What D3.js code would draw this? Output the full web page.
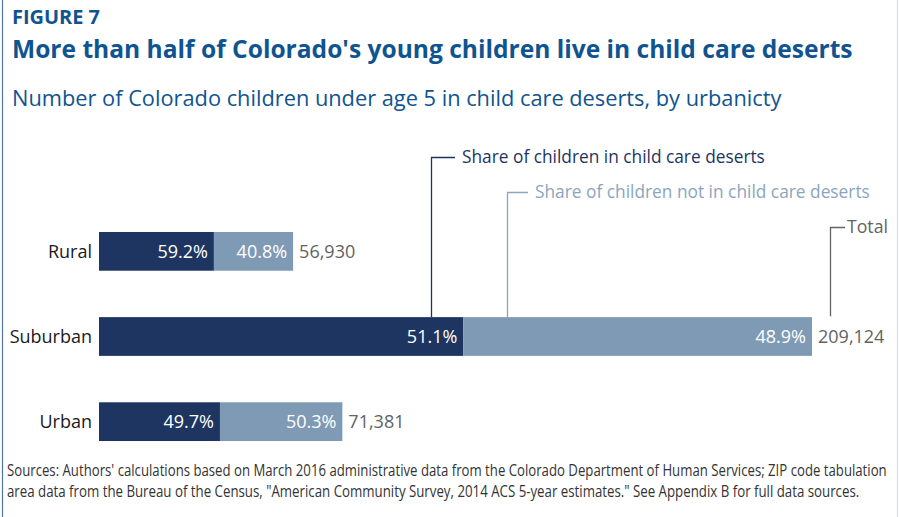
<!DOCTYPE html>
<html>
<head>
<meta charset="utf-8">
<script src="https://cdn.jsdelivr.net/npm/d3@7"></script>
<style>
  html, body { margin: 0; padding: 0; background: #fff; }
  svg { display: block; }
  text { font-family: "Open Sans", "Noto Sans", sans-serif; }
</style>
</head>
<body>
<svg id="chart" width="899" height="517"></svg>
<script>
// Children under 5 by urbanicity
const categories = ["Rural", "Suburban", "Urban"];
const inDesert = [59.2, 51.1, 49.7];      // % in child care deserts
const notInDesert = [40.8, 48.9, 50.3];   // % not in child care deserts
const totals = [56930, 209124, 71381];    // total children

const legendLabels = [
  "Share of children in child care deserts",
  "Share of children not in child care deserts",
  "Total"
];

const sourceLines = [
  "Sources: Authors' calculations based on March 2016 administrative data from the Colorado Department of Human Services; ZIP code tabulation",
  "area data from the Bureau of the Census, \"American Community Survey, 2014 ACS 5-year estimates.\" See Appendix B for full data sources."
];

const W = 899, H = 517;
const DARK = "#1d3560", LIGHT = "#7f9ab4", GREY = "#636363", BLUE = "#0f5490";

const svg = d3.select("#chart");

// frame
svg.append("line").attr("x1", 2.5).attr("x2", 2.5).attr("y1", 0).attr("y2", H)
  .attr("stroke", "#4f74a6").attr("stroke-width", 1.2);
svg.append("line").attr("x1", 897.5).attr("x2", 897.5).attr("y1", 0).attr("y2", H)
  .attr("stroke", "#d6e0ea").attr("stroke-width", 1.2);

// fit helper: scale a text's font-size so it spans a target width
function fit(sel, width) {
  const n = sel.node();
  const fs = parseFloat(sel.attr("font-size"));
  const w = n.getComputedTextLength();
  if (w > 0) sel.attr("font-size", fs * width / w);
  return sel;
}

// condensed text: keep the font size, squeeze horizontally to a width
function condense(sel, x0, y0, width) {
  const w = sel.node().getComputedTextLength();
  sel.attr("x", 0).attr("y", 0)
    .attr("transform", `translate(${x0},${y0}) scale(${width / w},1)`);
  return sel;
}

fit(svg.append("text").attr("x", 12).attr("y", 24).attr("font-size", 16)
  .attr("font-weight", 700).attr("fill", BLUE).text("FIGURE 7"), 88);

fit(svg.append("text").attr("x", 12).attr("y", 58).attr("font-size", 25)
  .attr("font-weight", 700).attr("fill", BLUE)
  .text("More than half of Colorado's young children live in child care deserts"), 841);

fit(svg.append("text").attr("x", 12).attr("y", 106).attr("font-size", 21)
  .attr("fill", BLUE)
  .text("Number of Colorado children under age 5 in child care deserts, by urbanicty"), 770);

// scales
const x = d3.scaleLinear().domain([0, d3.max(totals)]).range([99, 812]);
const y = d3.scaleBand().domain(categories).range([209, 464]).paddingInner(0.545).paddingOuter(0.27);

const rows = categories.map((c, i) => {
  const split = totals[i] * inDesert[i] / 100;
  return { c, i, split, total: totals[i] };
});

const g = svg.append("g");
const bh = y.bandwidth();

const row = g.selectAll("g.row").data(rows).join("g").attr("class", "row")
  .attr("transform", d => `translate(0,${y(d.c)})`);

row.append("rect").attr("x", x(0)).attr("y", 0)
  .attr("width", d => x(d.split) - x(0)).attr("height", bh).attr("fill", DARK);
row.append("rect").attr("x", d => x(d.split)).attr("y", 0)
  .attr("width", d => x(d.total) - x(d.split)).attr("height", bh).attr("fill", LIGHT);

const fs = 18;
row.append("text").attr("x", 92).attr("y", bh / 2).attr("dy", "0.36em")
  .attr("text-anchor", "end").attr("font-size", fs).attr("fill", "#1a1a1a")
  .text(d => d.c);
row.append("text").attr("x", d => x(d.split) - 6).attr("y", bh / 2).attr("dy", "0.36em")
  .attr("text-anchor", "end").attr("font-size", fs).attr("fill", "#fff")
  .text(d => inDesert[d.i].toFixed(1) + "%");
row.append("text").attr("x", d => x(d.total) - 6).attr("y", bh / 2).attr("dy", "0.36em")
  .attr("text-anchor", "end").attr("font-size", fs).attr("fill", "#fff")
  .text(d => notInDesert[d.i].toFixed(1) + "%");
row.append("text").attr("x", d => x(d.total) + 6).attr("y", bh / 2).attr("dy", "0.36em")
  .attr("font-size", fs).attr("fill", GREY)
  .text(d => d3.format(",")(d.total));

// leader-line legend anchored on the Suburban bar
const sub = rows[1];
const barTop = y(sub.c);
const leaders = [
  { x: 431, y: 157, len: 24, color: DARK, text: legendLabels[0], w: 303 },
  { x: 507, y: 192, len: 21, color: "#8ba5be", text: legendLabels[1], w: 335 },
  { x: 830, y: 227, len: 15, color: GREY, text: legendLabels[2], w: 41 }
];
leaders.forEach((l, k) => {
  const bottom = k === 2 ? barTop - 1 : barTop;
  svg.append("path")
    .attr("d", `M${l.x + 0.5},${bottom}V${l.y + 0.5}H${l.x + l.len}`)
    .attr("fill", "none").attr("stroke", l.color).attr("stroke-width", 1.3);
  fit(svg.append("text").attr("x", l.x + l.len + (k === 2 ? 2 : 7)).attr("y", l.y).attr("dy", "0.36em")
    .attr("font-size", fs).attr("fill", l.color).text(l.text), l.w);
});

// sources
const src = svg.append("g").attr("fill", "#333");
const srcWidths = [880, 853];
sourceLines.forEach((s, k) => {
  condense(src.append("text").attr("font-size", 16).text(s), 7, 476 + k * 21, srcWidths[k]);
});
</script>
</body>
</html>
